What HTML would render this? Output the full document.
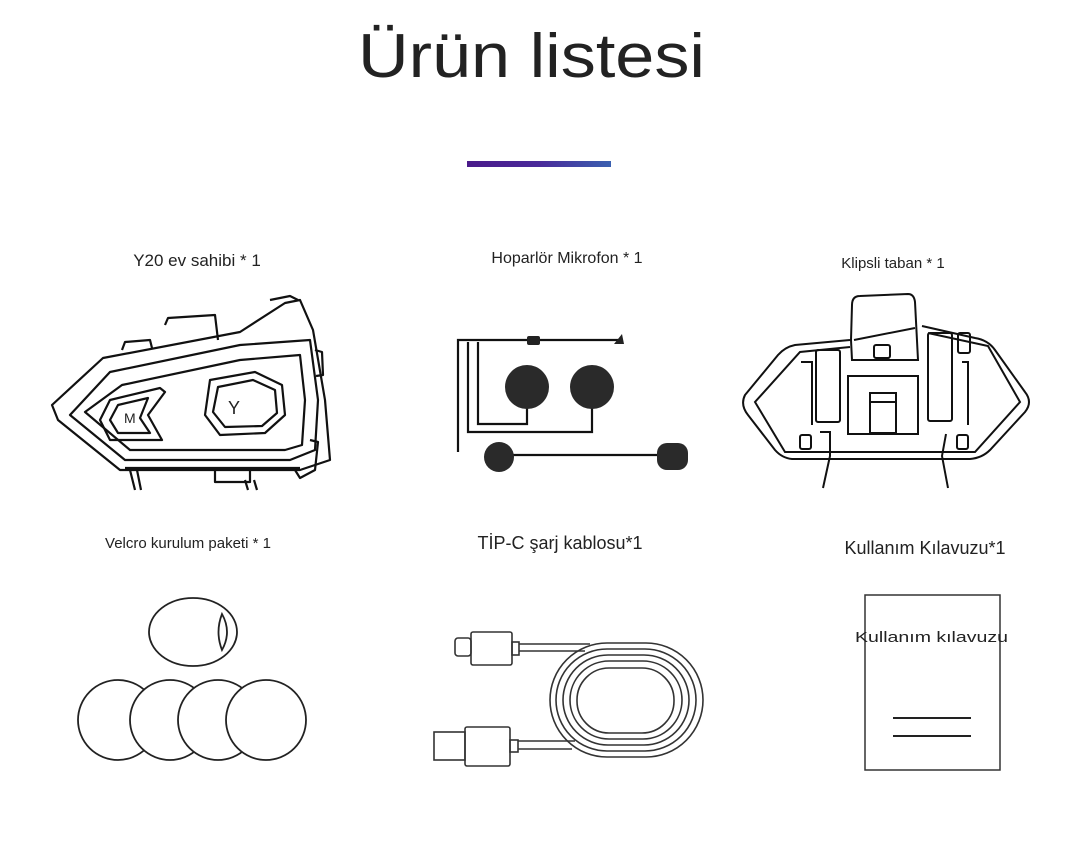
<!DOCTYPE html>
<html><head><meta charset="utf-8"><style>
html,body{margin:0;padding:0;background:#fff;}
svg{display:block;}
text{font-family:"Liberation Sans",sans-serif;fill:#222;}
</style></head><body>
<svg width="1080" height="848" viewBox="0 0 1080 848" xmlns="http://www.w3.org/2000/svg">
<defs><linearGradient id="g" x1="0" x2="1"><stop offset="0" stop-color="#4a1a8a"/><stop offset="0.5" stop-color="#4a2a9a"/><stop offset="1" stop-color="#3a60b0"/></linearGradient></defs>
<text x="358" y="77" font-size="62" textLength="347" lengthAdjust="spacingAndGlyphs" fill="#111">Ürün listesi</text>
<rect x="467" y="161" width="144" height="6" fill="url(#g)"/>

<text x="197" y="266" font-size="17" text-anchor="middle">Y20 ev sahibi * 1</text>
<text x="567" y="263" font-size="16" text-anchor="middle">Hoparlör Mikrofon * 1</text>
<text x="893" y="268" font-size="15" text-anchor="middle">Klipsli taban * 1</text>
<text x="188" y="548" font-size="15" text-anchor="middle">Velcro kurulum paketi * 1</text>
<text x="560" y="549" font-size="18" text-anchor="middle">TİP-C şarj kablosu*1</text>
<text x="925" y="554" font-size="18" text-anchor="middle">Kullanım Kılavuzu*1</text>

<!-- Device -->
<g fill="none" stroke="#111" stroke-width="2.2" stroke-linejoin="round">
<path d="M103 358 L240 332 L285 303 L300 300 L313 330 L325 400 L330 460 L300 470 L120 470 L58 420 L52 405 Z"/>
<path d="M110 372 L240 345 L310 340 L318 400 L315 450 L290 460 L125 460 L70 415 Z"/>
<path d="M122 385 L240 360 L300 355 L305 400 L302 445 L285 450 L130 450 L85 412 Z"/>
<path d="M165 325 L168 318 L215 315 L218 340"/>
<path d="M122 350 L125 342 L150 340 L152 348"/>
<path d="M270 300 L290 296 L298 300"/>
<path d="M110 400 L160 388 L165 392 L148 415 L162 440 L110 440 L100 420 Z"/>
<path d="M118 405 L148 398 L140 418 L150 433 L118 433 L110 420 Z"/>
<text x="124" y="423" font-size="14" stroke="none" fill="#222">M</text>
<path d="M210 380 L255 372 L282 385 L285 415 L265 433 L220 435 L205 415 Z"/>
<path d="M218 387 L253 380 L275 390 L277 413 L262 426 L225 427 L213 412 Z"/>
<text x="228" y="414" font-size="18" stroke="none" fill="#222">Y</text>
<path d="M315 350 L322 352 L323 375 L316 376"/>
<path d="M310 440 L318 442 L315 470 L300 478 L295 470"/>
<path d="M130 470 L135 490 M137 470 L141 490"/>
<path d="M250 470 L250 482 L215 482 L215 470"/>
<path d="M245 480 L248 490 M254 480 L257 490"/>
<path d="M125 468 L300 468"/>
</g>

<!-- Speaker mic -->
<g fill="none" stroke="#111" stroke-width="2.2">
<path d="M458 452 L458 340 L620 340"/>
<path d="M468 342 L468 432 L592 432 L592 405"/>
<path d="M478 342 L478 424 L527 424 L527 405"/>
<path d="M485 455 L662 455"/>
</g>
<rect x="527" y="336" width="13" height="9" rx="2" fill="#222"/>
<path d="M614 344 L624 344 L622 334 Z" fill="#222"/>
<circle cx="527" cy="387" r="22" fill="#2a2a2a"/>
<circle cx="592" cy="387" r="22" fill="#2a2a2a"/>
<circle cx="499" cy="457" r="15" fill="#2a2a2a"/>
<rect x="657" y="443" width="31" height="27" rx="10" fill="#2a2a2a"/>

<!-- Clip base -->
<g fill="none" stroke="#111" stroke-width="2">
<path d="M850 340 L795 345 Q785 347 778 355 L745 395 Q740 405 748 415 L775 450 Q782 458 792 459 L970 459 Q982 458 990 450 L1025 412 Q1033 402 1025 392 L995 350 Q988 340 975 338 L922 326"/>
<path d="M850 347 L800 352 L755 402 L785 452 L975 452 L1020 402 L988 346 L928 333"/>
<path d="M851 340 L852 305 Q852 296 860 296 L908 294 Q914 294 915 302 L918 360 L852 360 Z"/>
<path d="M854 340 L915 328"/>
<rect x="874" y="345" width="16" height="13" rx="2"/>
<rect x="848" y="376" width="70" height="58"/>
<rect x="870" y="393" width="26" height="40"/>
<path d="M870 402 L896 402"/>
<rect x="816" y="350" width="24" height="72" rx="2"/>
<rect x="928" y="333" width="24" height="88" rx="2"/>
<rect x="958" y="333" width="12" height="20" rx="2"/>
<path d="M801 362 L812 362 L812 425 M962 362 L968 362 L968 425"/>
<rect x="800" y="435" width="11" height="14" rx="2"/>
<rect x="957" y="435" width="11" height="14" rx="2"/>
<path d="M820 432 L830 432 L830 456 L823 488 M946 434 L942 456 L948 488"/>
</g>

<!-- Velcro -->
<g fill="#fff" stroke="#222" stroke-width="1.8">
<ellipse cx="193" cy="632" rx="44" ry="34"/>
<path d="M222 614 Q232 632 222 650 Q215 632 222 614 Z"/>
<circle cx="118" cy="720" r="40"/>
<circle cx="170" cy="720" r="40"/>
<circle cx="218" cy="720" r="40"/>
<circle cx="266" cy="720" r="40"/>
</g>

<!-- Cable -->
<g fill="none" stroke="#333" stroke-width="1.6">
<rect x="455" y="638" width="16" height="18" rx="3"/>
<rect x="471" y="632" width="41" height="33" rx="2"/>
<rect x="512" y="642" width="7" height="13"/>
<path d="M519 644 L590 644 M519 651 L585 651"/>
<rect x="434" y="732" width="31" height="28"/>
<rect x="465" y="727" width="45" height="39" rx="2"/>
<rect x="510" y="740" width="8" height="12"/>
<path d="M518 741 L575 741 M518 749 L572 749"/>
<rect x="550" y="643" width="153" height="114" rx="57"/>
<rect x="556" y="649" width="140" height="102" rx="51"/>
<rect x="563" y="655" width="126" height="90" rx="45"/>
<rect x="570" y="661" width="112" height="78" rx="39"/>
<rect x="577" y="668" width="97" height="65" rx="32"/>
</g>

<!-- Manual -->
<rect x="865" y="595" width="135" height="175" fill="none" stroke="#333" stroke-width="1.5"/>
<text x="855" y="642" font-size="15" textLength="153" lengthAdjust="spacingAndGlyphs">Kullanım kılavuzu</text>
<path d="M893 718 L971 718 M893 736 L971 736" stroke="#222" stroke-width="2"/>
</svg>
</body></html>
